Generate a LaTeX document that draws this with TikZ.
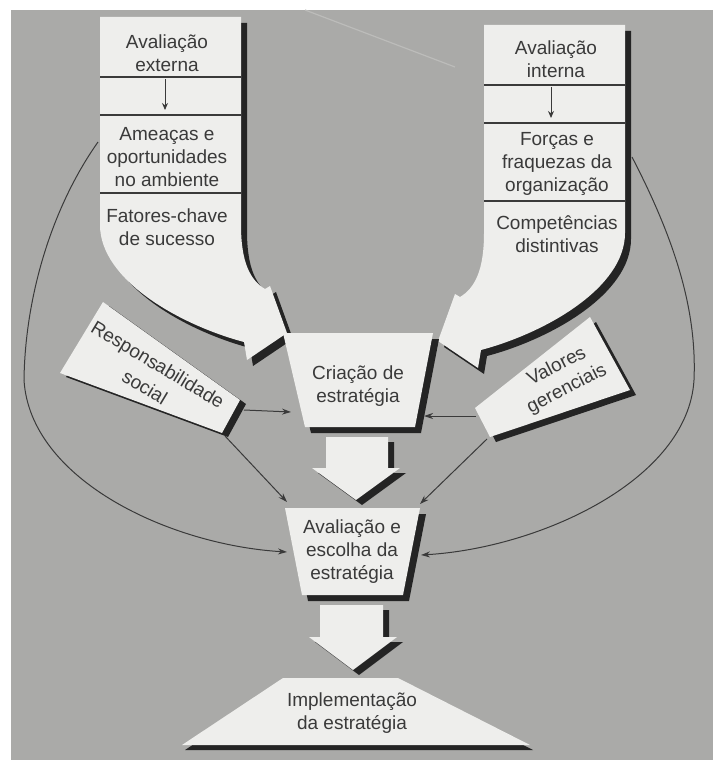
\documentclass[tikz,border=0pt]{standalone}
\usepackage{fontspec}
\setmainfont{Liberation Sans}
\usetikzlibrary{arrows.meta}
\definecolor{bg}{RGB}{170,170,168}
\definecolor{paper}{RGB}{238,238,236}
\definecolor{shadowc}{RGB}{36,36,36}
\definecolor{ink}{RGB}{58,58,58}
\definecolor{streak}{RGB}{188,188,186}
\begin{document}
\begin{tikzpicture}[x=1pt,y=-1pt,
  txt/.style={font=\fontsize{19}{23}\selectfont, text=ink, align=center, inner sep=0pt},
  divider/.style={draw=ink, line width=1.1pt},
  conn/.style={draw=ink, line width=1pt, -{Stealth[length=9pt,width=6pt]}},
  small/.style={draw=ink, line width=1pt, -{Stealth[length=7pt,width=6pt]}},
]
\useasboundingbox (0,0) rectangle (713,760);
\fill[white] (0,0) rectangle (713,760);
\fill[bg] (11,10) rectangle (713,760);
\draw[streak, line width=1.2pt] (305,10) -- (455,67);

% left funnel
\foreach \dx/\dy/\c in {6/6/shadowc,0/0/paper}
  \fill[\c,shift={(\dx,\dy)}] (100,17) -- (241,17) -- (241,225)
    .. controls (241,262) and (250,280) .. (265,289) -- (270,286) -- (287,333)
    -- (247,360) -- (244,342) .. controls (180,325) and (100,280) .. (100,225) -- cycle;
\draw[divider] (100,77) -- (241,77);
\draw[divider] (100,115) -- (241,115);
\draw[divider] (100,193) -- (241,193);
\coordinate (la1) at (165,79);
\coordinate (la2) at (165,110);
\draw[small] (la1) -- (la2);

% right funnel (mirror)
\begin{scope}[shift={(725,8)},xscale=-1]
\foreach \dx/\dy/\c in {-6/6/shadowc,0/0/paper}
  \fill[\c,shift={(\dx,\dy)}] (100,17) -- (241,17) -- (241,225)
    .. controls (241,262) and (250,280) .. (265,289) -- (270,286) -- (287,333)
    -- (247,360) -- (244,342) .. controls (180,325) and (100,280) .. (100,225) -- cycle;
\draw[divider] (100,77) -- (241,77);
\draw[divider] (100,115) -- (241,115);
\draw[divider] (100,193) -- (241,193);
\end{scope}
\coordinate (ra1) at (551,87);
\coordinate (ra2) at (551,118);
\draw[small] (ra1) -- (ra2);

% texts in funnels
\node[txt] (ext) at (167,53) {Avaliação\\externa};
\node[txt] (amea) at (167,157) {Ameaças e\\oportunidades\\no ambiente};
\node[txt] (fat) at (167,227) {Fatores-chave\\de sucesso};
\node[txt] (int) at (556,59) {Avaliação\\interna};
\node[txt] (forc) at (557,164) {Forças e\\fraquezas da\\organização};
\node[txt] (comp) at (557,234) {Competências\\distintivas};

% side plates
\foreach \dx/\dy/\c in {6/4/shadowc,0/0/paper}
  \fill[\c,shift={(\dx,\dy)}] (103,302) -- (240,400) -- (222,433) -- (60,373) -- cycle;
\node[txt, rotate=-31] (resp1) at (157,366) {Responsabilidade};
\node[txt, rotate=-31] (resp2) at (145,387) {social};
\foreach \dx/\dy/\c in {6/5/shadowc,0/0/paper}
  \fill[\c,shift={(\dx,\dy)}] (475,408) -- (590,317) -- (630,390) -- (490,437) -- cycle;
\node[txt, rotate=27] (val1) at (556,365) {Valores};
\node[txt, rotate=27] (val2) at (567,389) {gerenciais};

% Criacao
\foreach \dx/\dy/\c in {6/6/shadowc,0/0/paper}
  \fill[\c,shift={(\dx,\dy)}] (283,333) -- (433,333) -- (415,427) -- (305,427) -- cycle;
\node[txt] (cria) at (358,386) {Criação de\\estratégia};

% big arrow 1
\foreach \dx/\dy/\c in {6/5/shadowc,0/0/paper}
  \fill[\c,shift={(\dx,\dy)}] (326,437) -- (388,437) -- (388,468) -- (400,468) -- (356,500) -- (312,468) -- (326,468) -- cycle;

% Avaliacao e escolha
\foreach \dx/\dy/\c in {6/6/shadowc,0/0/paper}
  \fill[\c,shift={(\dx,\dy)}] (285,508) -- (420,508) -- (403,595) -- (302,595) -- cycle;
\node[txt] (aval) at (352,552) {Avaliação e\\escolha da\\estratégia};

% big arrow 2
\foreach \dx/\dy/\c in {6/5/shadowc,0/0/paper}
  \fill[\c,shift={(\dx,\dy)}] (320,605) -- (383,605) -- (383,637) -- (397,637) -- (353,670) -- (309,637) -- (320,637) -- cycle;

% Implementacao
\foreach \dx/\dy/\c in {3/5/shadowc,0/0/paper}
  \fill[\c,shift={(\dx,\dy)}] (283,678) -- (398,678) -- (530,745) -- (182,745) -- cycle;
\node[txt] (impl) at (352,713) {Implementação\\da estratégia};

% connector end points
\coordinate (rR) at (244,410);
\coordinate (crL) at (291,412);
\coordinate (rB) at (225,436);
\coordinate (avL1) at (287,502);
\coordinate (vL) at (476,416);
\coordinate (crR) at (424,416);
\coordinate (vB) at (487,439);
\coordinate (avR1) at (420,504);
\coordinate (extL) at (98,142);
\coordinate (avL2) at (287,552);
\coordinate (intR) at (632,157);
\coordinate (avR2) at (421,555);

\draw[conn] (rR) -- (crL);
\draw[conn] (rB) -- (avL1);
\draw[conn] (vL) -- (crR);
\draw[conn] (vB) -- (avR1);
\draw[conn] (extL) .. controls (50,210) and (25,300) .. (24,380)
   .. controls (30,480) and (170,545) .. (avL2);
\draw[conn] (intR) .. controls (675,240) and (697,310) .. (694,380)
   .. controls (688,480) and (540,548) .. (avR2);
\end{tikzpicture}
\end{document}
